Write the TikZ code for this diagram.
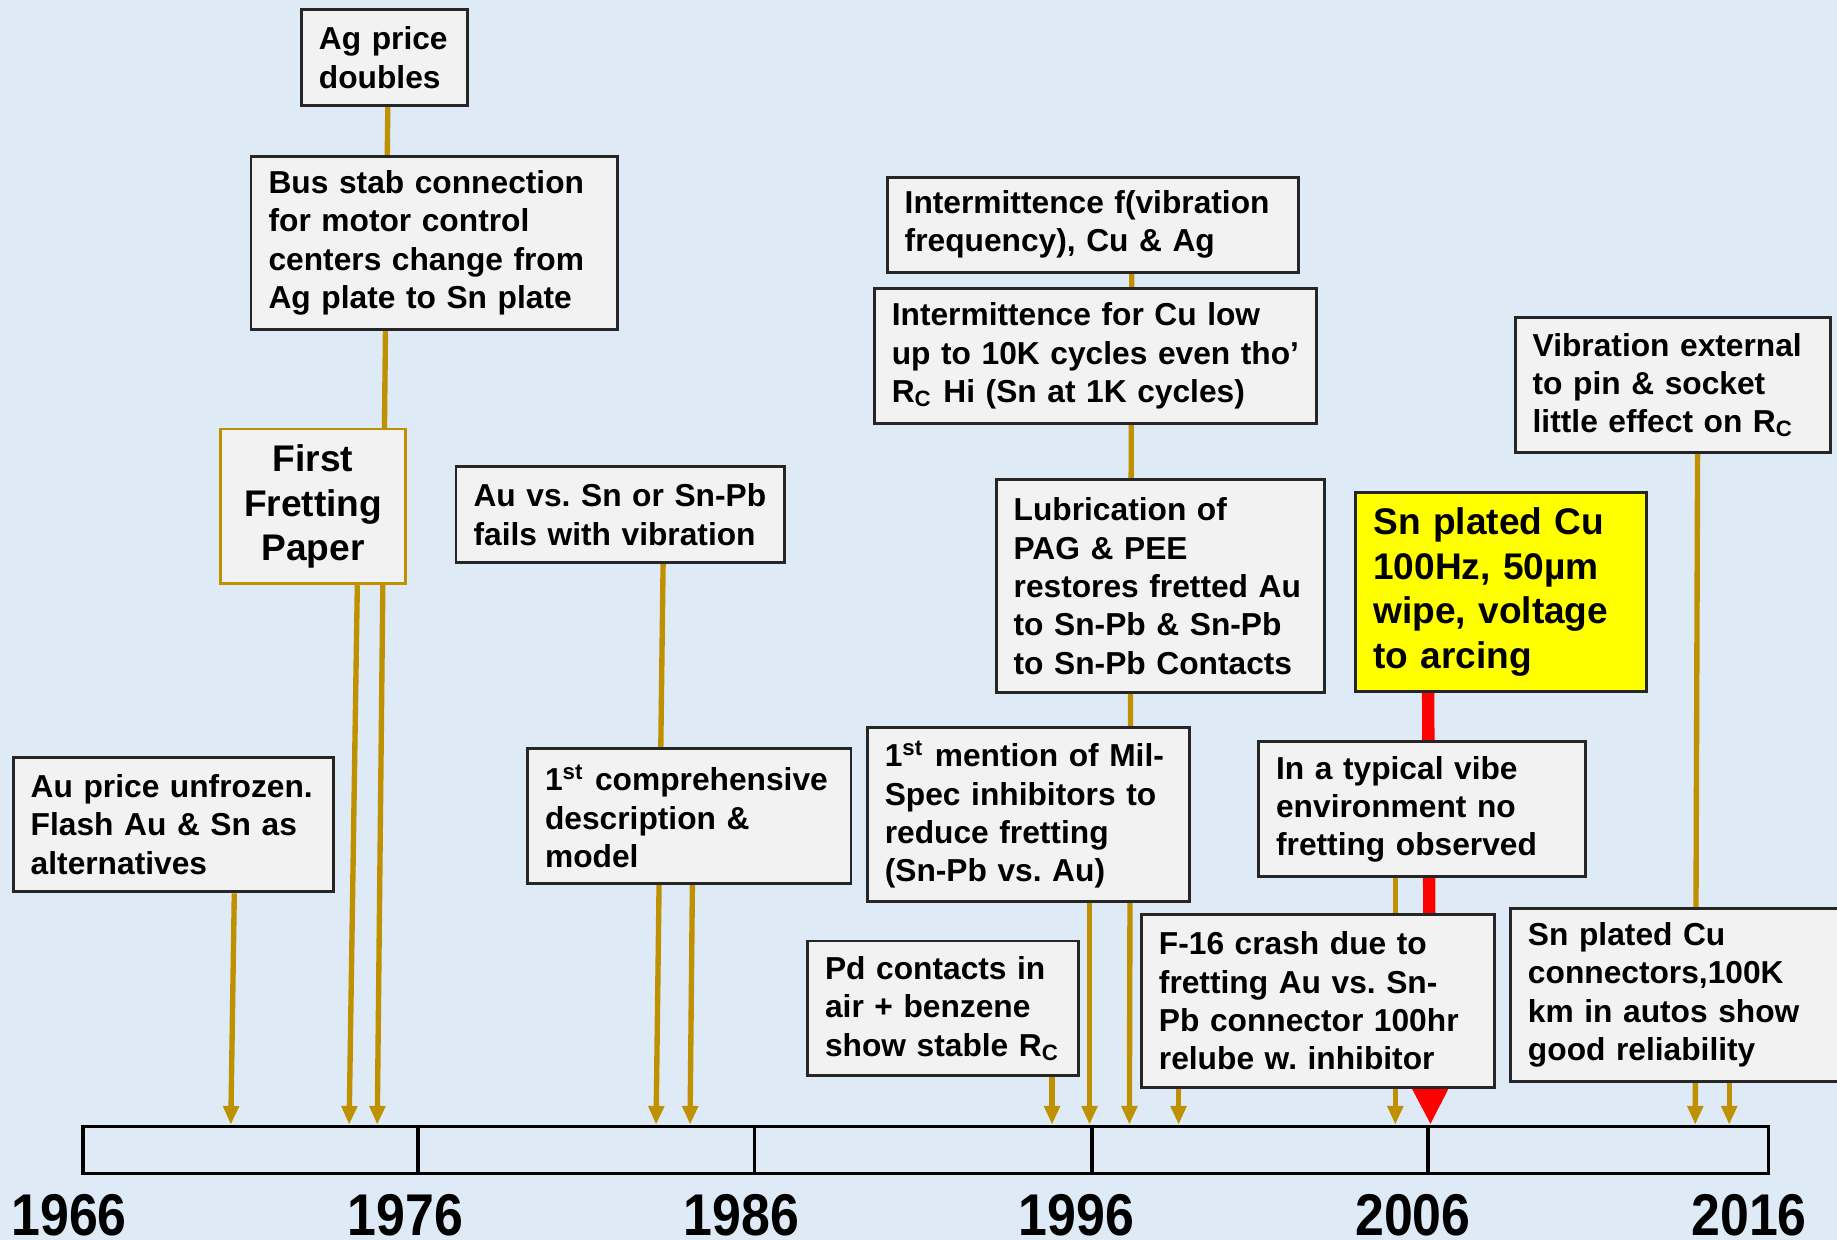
\documentclass[tikz,border=0pt]{standalone}
\usepackage{fontspec}
\setmainfont{Liberation Sans}
\newfontfamily\yearfont[FakeStretch=0.88]{Liberation Sans}
\usetikzlibrary{arrows.meta,positioning}
\definecolor{slideblue}{RGB}{222,235,247}
\definecolor{boxgray}{RGB}{242,242,242}
\definecolor{linkgold}{RGB}{191,144,0}
\definecolor{notered}{RGB}{255,0,0}
\definecolor{noteyellow}{RGB}{255,255,0}
\pgfdeclarelayer{back}
\pgfsetlayers{back,main}

\begin{document}
\begin{tikzpicture}[x=0.01cm,y=-0.01cm,
  event/.style={draw=black!85,fill=boxgray,line width=0.7pt,anchor=north west,
    inner xsep=0.15cm,inner ysep=0pt,
    execute at begin node={\frenchspacing\rightskip=0pt plus 1fil minus 0.5cm},
    font=\fontsize{7.7}{9.3}\selectfont\bfseries},
  bigevent/.style={event,font=\fontsize{9}{10.8}\selectfont\bfseries},
  link/.style={linkgold,line width=1.3pt,-{Triangle[width=0.13cm,length=0.16cm]}},
  redlink/.style={notered,line width=3pt,-{Triangle[width=0.30cm,length=0.32cm]}},
  year/.style={anchor=base,inner sep=0pt,font=\yearfont\fontsize{14.3}{16}\selectfont\bfseries}]
  \useasboundingbox (0,0) rectangle (1568,1058);

  % time axis
  \node[draw,line width=0.9pt,minimum width=14.38cm,minimum height=0.40cm,
    anchor=north west,inner sep=0pt] (bar) at (69,960) {};
  \foreach \x in {357,644,932,1219}
    \draw[line width=0.9pt] (bar.north -| \x,0) -- (bar.south -| \x,0);
  \foreach \yr/\x in {1966/59,1976/346,1986/633,1996/919,2006/1206,2016/1493}
    \node[year] (yr\yr) at (\x,1055) {\yr};

  % 1966--1986
  \node[event,text width=1.12cm,minimum height=0.82cm] (agprice) at (256,7)
    {Ag price\\doubles};
  \node[event,text width=2.83cm,minimum height=1.48cm] (busstab) at (213,132)
    {Bus stab connection\\for motor control\\centers change from\\Ag plate to Sn plate};
  \node[bigevent,draw=linkgold,execute at begin node=\centering,
    text width=1.28cm,minimum height=1.32cm] (firstpaper) at (187,365)
    {First\\Fretting\\Paper};
  \node[event,text width=2.50cm,minimum height=0.82cm] (ausn) at (388,397)
    {Au vs. Sn or Sn-Pb\\fails with vibration};
  \node[event,text width=2.43cm,minimum height=1.15cm] (auprice) at (10,645)
    {Au price unfrozen.\\Flash Au \& Sn as\\alternatives};
  \node[event,text width=2.46cm,minimum height=1.15cm] (comprehensive) at (449,638)
    {1\textsuperscript{st} comprehensive\\description \&\\model};

  % 1986--2006
  \node[event,text width=3.21cm,minimum height=0.81cm] (intermf) at (756,150)
    {Intermittence f(vibration\\frequency), Cu \& Ag};
  \node[event,text width=3.47cm,minimum height=1.15cm] (intermcu) at (745,245)
    {Intermittence for Cu low\\up to 10K cycles even tho’\\R\textsubscript{C} Hi (Sn at 1K cycles)};
  \node[event,text width=2.50cm,minimum height=1.82cm] (lubrication) at (849,408)
    {Lubrication of\\PAG \& PEE\\restores fretted Au\\to Sn-Pb \& Sn-Pb\\to Sn-Pb Contacts};
  \node[event,text width=2.45cm,minimum height=1.48cm] (milspec) at (739,620)
    {1\textsuperscript{st} mention of Mil-\\Spec inhibitors to\\reduce fretting\\(Sn-Pb vs. Au)};
  \node[event,text width=2.01cm,minimum height=1.15cm] (pdcontacts) at (688,802)
    {Pd contacts in\\air + benzene\\show stable R\textsubscript{C}};
  \node[event,text width=2.71cm,minimum height=1.48cm] (f16) at (973,779)
    {F-16 crash due to\\fretting Au vs. Sn-\\Pb connector 100hr\\relube w. inhibitor};
  \node[event,text width=2.49cm,minimum height=1.15cm] (typvibe) at (1073,632)
    {In a typical vibe\\environment no\\fretting observed};

  % 2006--2016
  \node[bigevent,fill=noteyellow,text width=2.18cm,minimum height=1.70cm] (snarcing) at (1156,419)
    {Sn plated Cu\\100Hz, 50µm\\wipe, voltage\\to arcing};
  \node[event,text width=2.39cm,minimum height=1.15cm] (vibext) at (1292,270)
    {Vibration external\\to pin \& socket\\little effect on R\textsubscript{C}};
  \node[event,text width=2.64cm,minimum height=1.48cm] (snautos) at (1288,774)
    {Sn plated Cu\\connectors,100K\\km in autos show\\good reliability};

  \begin{pgfonlayer}{back}
    \fill[slideblue] (0,0) rectangle (1568,1058);
    % leads down to the axis
    \draw[link] (auprice.south -| 200,0) -- (bar.north -| 197,0);
    \draw[link] (agprice.south -| 331,0) -- (bar.north -| 322,0);
    \draw[link] (firstpaper.south -| 305,0) -- (bar.north -| 298,0);
    \draw[link] (ausn.south -| 566,0) -- (bar.north -| 560,0);
    \draw[link] (comprehensive.south -| 591,0) -- (bar.north -| 589,0);
    \draw[link] (intermf.south -| 966,0) -- (bar.north -| 964,0);
    \draw[link] (milspec.south -| 930,0) -- (bar.north -| 930,0);
    \draw[link] (pdcontacts.south -| 898,0) -- (bar.north -| 898,0);
    \draw[link] (f16.south -| 1006,0) -- (bar.north -| 1006,0);
    \draw[link] (typvibe.south -| 1191,0) -- (bar.north -| 1191,0);
    \draw[link] (vibext.south -| 1449,0) -- (bar.north -| 1447,0);
    \draw[link] (snautos.south -| 1476,0) -- (bar.north -| 1476,0);
    \draw[redlink] (snarcing.south -| 1219,0) -- (bar.north -| 1221,0);
  \end{pgfonlayer}
\end{tikzpicture}
\end{document}
